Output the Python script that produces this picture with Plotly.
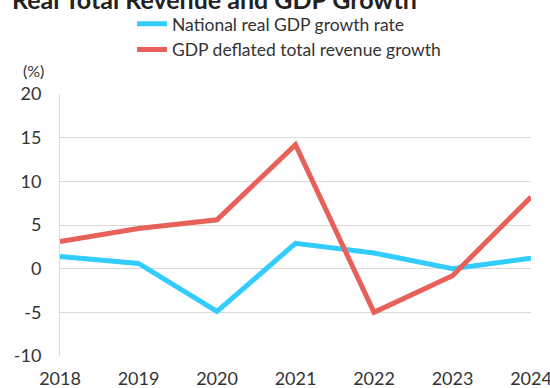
import plotly.graph_objects as go

years = [2018, 2019, 2020, 2021, 2022, 2023, 2024]
gdp_growth = [1.4, 0.6, -4.9, 2.9, 1.8, 0.0, 1.2]
revenue_growth = [3.1, 4.6, 5.6, 14.2, -5.0, -0.8, 8.2]
y_ticks = [-10, -5, 0, 5, 10, 15, 20]

fig = go.Figure()
fig.add_trace(go.Scatter(x=years, y=gdp_growth, mode="lines", name="National real GDP growth rate",
                         line=dict(color="#33CCFF", width=5)))
fig.add_trace(go.Scatter(x=years, y=revenue_growth, mode="lines", name="GDP deflated total revenue growth",
                         line=dict(color="#E8605A", width=5)))

fig.update_layout(
    width=550, height=388,
    margin=dict(l=60, r=19, t=94, b=32, autoexpand=False),
    paper_bgcolor="white", plot_bgcolor="white",
    font=dict(family="Lato", size=18, color="#333333"),
    title=dict(text="<b>Real Total Revenue and GDP Growth</b>", xref="container", yref="container",
               x=12/550, xanchor="left", y=1.0, yanchor="middle",
               font=dict(family="Lato", size=25, color="#222222")),
    legend=dict(orientation="v", x=0.24, xanchor="left", y=0.985, yanchor="top",
                yref="container", xref="container",
                font=dict(size=17.5, color="#333333"), bgcolor="rgba(0,0,0,0)"),
    showlegend=True,
)
fig.update_xaxes(range=[2018, 2024], tickvals=years, ticktext=[str(y) for y in years],
                 showgrid=False, zeroline=False, showline=False, ticks="",
                 ticklabelstandoff=10, ticklabeloverflow="allow",
                 tickfont=dict(size=18, color="#333333"))
fig.update_yaxes(range=[-10, 20], tickvals=y_ticks, ticktext=[str(v) for v in y_ticks],
                 showgrid=True, gridcolor="#D9D9D9", gridwidth=1, zeroline=False,
                 showline=True, linecolor="#D9D9D9", linewidth=1, ticks="",
                 ticklabelstandoff=14,
                 tickfont=dict(size=18, color="#333333"))
fig.add_annotation(text="(%)", xref="paper", yref="paper", x=0, y=1, xanchor="right", yanchor="bottom",
                   xshift=-14, yshift=12, showarrow=False, font=dict(size=16, color="#333333"))

fig.write_html("out.html")
